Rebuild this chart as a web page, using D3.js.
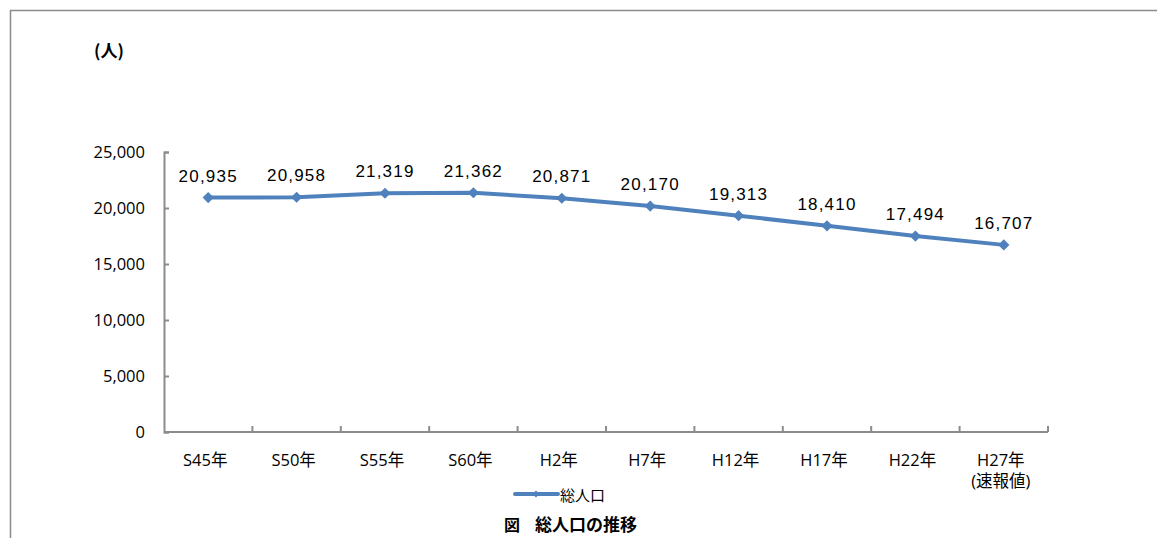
<!DOCTYPE html>
<html>
<head>
<meta charset="utf-8">
<script src="https://cdn.jsdelivr.net/npm/d3@7"></script>
<style>
body { margin: 0; background: #fff; }
text { font-family: "Open Sans", "Noto Sans CJK JP", sans-serif; }
</style>
</head>
<body>
<script>
var categories = ["S45年", "S50年", "S55年", "S60年", "H2年", "H7年", "H12年", "H17年", "H22年", "H27年\n(速報値)"];
var population = [20935, 20958, 21319, 21362, 20871, 20170, 19313, 18410, 17494, 16707];
var yTicks = [0, 5000, 10000, 15000, 20000, 25000];

var svg = d3.select("body")
    .append("svg")
    .attr("width", "1157")
    .attr("height", "538")
    .style("display", "block");

// frame (left and top only visible)
svg.append("path")
    .attr("d", "M10.5,538 V10.5 H1157")
    .attr("fill", "none")
    .attr("stroke", "#8c8c8c")
    .attr("stroke-width", 1.5);

var margin = {top: 152, left: 164};
var width = 884, height = 280;

var g = svg.append("g").attr("transform", "translate(" + margin.left + "," + margin.top + ")");

var x = d3.scaleBand().domain(categories).range([0, width]);
var y = d3.scaleLinear().domain([0, 25000]).range([height, 0]);
var fmt = d3.format(",d");

// y axis
var yAxis = g.append("g")
    .call(d3.axisLeft(y).tickValues(yTicks).tickSizeInner(-5).tickSizeOuter(-5).tickPadding(19).tickFormat(fmt));
yAxis.selectAll("path, line").attr("stroke", "#8c8c8c").attr("stroke-width", 2);
yAxis.selectAll("text").style("font-size", "16.5px").style("font-family", "Open Sans").attr("fill", "#000");

// x axis with ticks at band edges
var xg = g.append("g").attr("transform", "translate(0," + height + ")");
xg.append("line").attr("x1", 0).attr("x2", width).attr("stroke", "#8c8c8c").attr("stroke-width", 2);
xg.selectAll(".tk")
    .data(categories)
    .enter().append("line")
    .attr("x1", function(d) { return x(d) + x.bandwidth(); })
    .attr("x2", function(d) { return x(d) + x.bandwidth(); })
    .attr("y1", 0).attr("y2", -6)
    .attr("stroke", "#8c8c8c").attr("stroke-width", 2);
xg.selectAll(".lbl")
    .data(categories)
    .enter().append("text")
    .attr("text-anchor", "middle")
    .attr("fill", "#000")
    .style("font-size", "16.5px")
    .attr("transform", function(d) { return "translate(" + (x(d) + x.bandwidth() / 2 - 3) + ",34)"; })
    .each(function(d) {
        var t = d3.select(this);
        d.split("\n").forEach(function(s, i) {
            t.append("tspan").attr("x", 0).attr("dy", i ? 21 : 0).text(s);
        });
    });

var data = categories.map(function(c, i) { return {cat: c, value: population[i]}; });
var cx = function(d) { return x(d.cat) + x.bandwidth() / 2; };

g.append("path")
    .datum(data)
    .attr("fill", "none")
    .attr("stroke", "#4f81bd")
    .attr("stroke-width", 4)
    .attr("stroke-linejoin", "round")
    .attr("d", d3.line().x(cx).y(function(d) { return y(d.value); }));

var diamond = d3.symbol().type(d3.symbolDiamond2).size(80);
g.selectAll(".pt")
    .data(data)
    .enter().append("path")
    .attr("d", diamond)
    .attr("fill", "#4f81bd")
    .attr("transform", function(d) { return "translate(" + cx(d) + "," + y(d.value) + ")"; });

g.selectAll(".val")
    .data(data)
    .enter().append("text")
    .attr("x", cx)
    .attr("y", function(d) { return y(d.value) - 16; })
    .attr("text-anchor", "middle")
    .style("font-size", "17px")
    .style("font-family", "Liberation Sans")
    .style("letter-spacing", "1.2px")
    .attr("fill", "#000")
    .text(function(d) { return fmt(d.value); });

// unit label
svg.append("text")
    .attr("x", 94).attr("y", 57)
    .style("font-size", "17px")
    .style("font-weight", "bold")
    .style("font-family", "Noto Sans CJK JP")
    .text("(人)");

// legend
svg.append("line")
    .attr("x1", 515).attr("x2", 558).attr("y1", 494).attr("y2", 494)
    .attr("stroke", "#4f81bd").attr("stroke-width", 4).attr("stroke-linecap", "round");
svg.append("path")
    .attr("d", d3.symbol().type(d3.symbolDiamond2).size(30))
    .attr("fill", "#4f81bd")
    .attr("transform", "translate(536,494)");
svg.append("text")
    .attr("x", 560).attr("y", 501)
    .style("font-size", "15px")
    .style("font-family", "Noto Sans CJK JP")
    .text("総人口");

// caption
svg.append("text")
    .attr("x", 504).attr("y", 531)
    .style("font-size", "16px")
    .style("font-weight", "bold")
    .style("font-family", "Noto Sans CJK JP")
    .text("図");
svg.append("text")
    .attr("x", 535).attr("y", 531)
    .style("font-size", "17px")
    .style("font-weight", "bold")
    .style("font-family", "Noto Sans CJK JP")
    .text("総人口の推移");
</script>
</body>
</html>
